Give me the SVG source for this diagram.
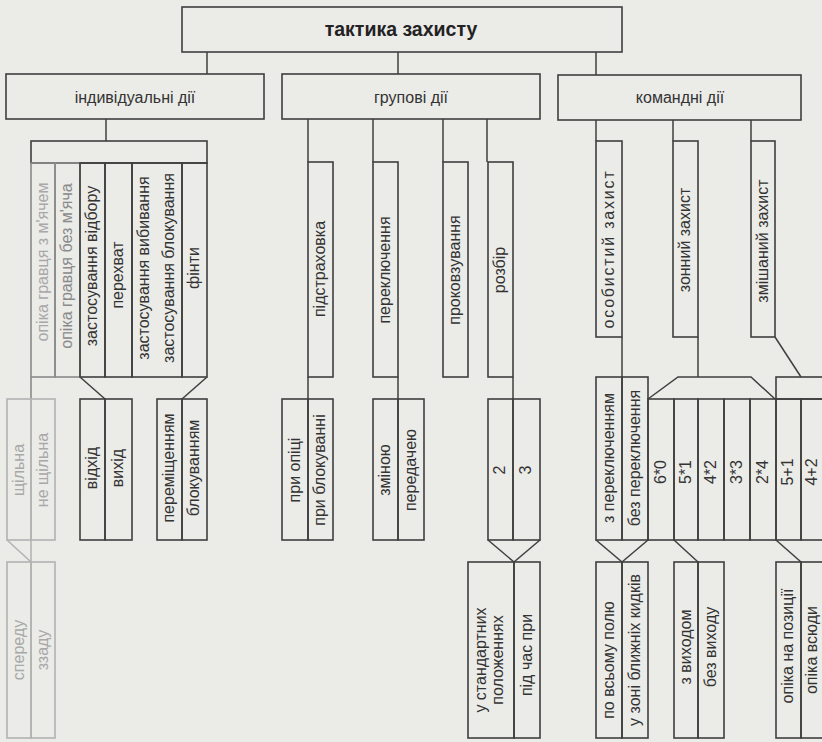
<svg xmlns="http://www.w3.org/2000/svg" width="822" height="742" viewBox="0 0 822 742">
<style>
.bg{fill:#ebebe8}
.b{fill:none;stroke:#3f3f3f;stroke-width:1.6}
.m{fill:none;stroke:#8a8a8a;stroke-width:1.6}
.f{fill:none;stroke:#b2b2b2;stroke-width:1.6}
.c{fill:none;stroke:#3f3f3f;stroke-width:1.5}
.cf{fill:none;stroke:#b2b2b2;stroke-width:1.5}
text{font-family:"Liberation Sans",Arial,sans-serif;font-size:16px;fill:#333;text-anchor:middle}
.h{font-size:19.5px;font-weight:bold;fill:#222}
.ft{fill:#a8a8a8}
.mt{fill:#8a8a8a}
</style>
<rect class="bg" x="0" y="0" width="822" height="742"/>

<g id="connectors">
  <line class="c" x1="207" y1="52" x2="207" y2="74"/>
  <line class="c" x1="398" y1="52" x2="398" y2="74"/>
  <line class="c" x1="596" y1="52" x2="596" y2="75"/>
  <line class="c" x1="106" y1="119" x2="106" y2="141"/>
  <line class="c" x1="308" y1="119" x2="308" y2="162"/>
  <line class="c" x1="373" y1="119" x2="373" y2="162"/>
  <line class="c" x1="443" y1="119" x2="443" y2="162"/>
  <line class="c" x1="487" y1="119" x2="487" y2="162"/>
  <line class="c" x1="596" y1="120" x2="596" y2="141"/>
  <line class="c" x1="673" y1="120" x2="673" y2="141"/>
  <line class="c" x1="751" y1="120" x2="751" y2="141"/>
  <line class="c" x1="80" y1="377" x2="105" y2="399"/>
  <line class="c" x1="207" y1="377" x2="182" y2="399"/>
  <line class="m" x1="31" y1="377" x2="31" y2="399"/>
  <line class="cf" x1="31" y1="540" x2="31" y2="562"/>
  <line class="cf" x1="7" y1="540" x2="31" y2="562"/>
  <line class="c" x1="308" y1="377" x2="308" y2="399"/>
  <line class="c" x1="398" y1="377" x2="398" y2="399"/>
  <line class="c" x1="513" y1="377" x2="513" y2="399"/>
  <line class="c" x1="488" y1="540" x2="514" y2="562"/>
  <line class="c" x1="540" y1="540" x2="514" y2="562"/>
  <line class="c" x1="622" y1="337" x2="622" y2="377"/>
  <line class="c" x1="698" y1="337" x2="698" y2="377"/>
  <polyline class="c" points="648,399 678,377 751,377 775,399"/>
  <line class="c" x1="775" y1="337" x2="801" y2="377"/>
  <line class="c" x1="596" y1="540" x2="622" y2="562"/>
  <line class="c" x1="648" y1="540" x2="622" y2="562"/>
  <line class="c" x1="674" y1="540" x2="698" y2="562"/>
  <line class="c" x1="776" y1="540" x2="801" y2="562"/>
</g>

<g id="root"><rect class="b" x="182" y="7" width="440" height="45"/><text class="h" x="401" y="36">тактика захисту</text></g>
<g id="individual"><rect class="b" x="6" y="74" width="258" height="45"/><text x="135" y="103">індивідуальні дії</text></g>
<g id="group"><rect class="b" x="282" y="74" width="258" height="45"/><text x="411" y="103">групові дії</text></g>
<g id="team"><rect class="b" x="558" y="75" width="243" height="45"/><text x="680" y="103">командні дії</text></g>

<g id="ind-header"><rect class="b" x="31" y="141" width="176" height="22"/></g>
<g id="ind-1"><rect class="m" x="31" y="163" width="24" height="214"/><text class="ft" transform="translate(48,262) rotate(-90)">опіка гравця з м'ячем</text></g>
<g id="ind-2"><rect class="m" x="55" y="163" width="25" height="214"/><text class="mt" transform="translate(72,266) rotate(-90)">опіка гравця без м'яча</text></g>
<g id="ind-3"><rect class="b" x="80" y="163" width="25" height="214"/><text transform="translate(97,266) rotate(-90)">застосування відбору</text></g>
<g id="ind-4"><rect class="b" x="105" y="163" width="27" height="214"/><text transform="translate(123,275) rotate(-90)">перехват</text></g>
<g id="ind-5"><rect class="b" x="132" y="163" width="50" height="214"/><text transform="translate(149,268) rotate(-90)">застосування вибивання</text><text transform="translate(174,268) rotate(-90)">застосування блокування</text></g>
<g id="ind-6"><rect class="b" x="182" y="163" width="25" height="214"/><text transform="translate(199,268) rotate(-90)">фінти</text></g>

<g id="ind-1a"><rect class="f" x="7" y="399" width="24" height="141"/><text class="ft" transform="translate(24,470) rotate(-90)">щільна</text></g>
<g id="ind-1b"><rect class="f" x="31" y="399" width="24" height="141"/><text class="ft" transform="translate(48,470) rotate(-90)">не щільна</text></g>
<g id="ind-1c"><rect class="f" x="7" y="562" width="24" height="176"/><text class="ft" transform="translate(24,650) rotate(-90)">спереду</text></g>
<g id="ind-1d"><rect class="f" x="31" y="562" width="24" height="176"/><text class="ft" transform="translate(48,650) rotate(-90)">ззаду</text></g>
<g id="ind-3a"><rect class="b" x="80" y="399" width="25" height="141"/><text transform="translate(97,468) rotate(-90)">відхід</text></g>
<g id="ind-3b"><rect class="b" x="105" y="399" width="27" height="141"/><text transform="translate(123,468) rotate(-90)">вихід</text></g>
<g id="ind-6a"><rect class="b" x="157" y="399" width="25" height="141"/><text transform="translate(174,468) rotate(-90)">переміщенням</text></g>
<g id="ind-6b"><rect class="b" x="182" y="399" width="25" height="141"/><text transform="translate(199,468) rotate(-90)">блокуванням</text></g>

<g id="grp-1"><rect class="b" x="308" y="162" width="25" height="215"/><text transform="translate(325,269) rotate(-90)">підстраховка</text></g>
<g id="grp-2"><rect class="b" x="373" y="162" width="25" height="215"/><text transform="translate(390,270) rotate(-90)">переключення</text></g>
<g id="grp-3"><rect class="b" x="443" y="162" width="25" height="215"/><text transform="translate(460,270) rotate(-90)">проковзування</text></g>
<g id="grp-4"><rect class="b" x="488" y="162" width="25" height="215"/><text transform="translate(505,270) rotate(-90)">розбір</text></g>
<g id="grp-1a"><rect class="b" x="282" y="399" width="26" height="141"/><text transform="translate(300,470) rotate(-90)">при опіці</text></g>
<g id="grp-1b"><rect class="b" x="308" y="399" width="25" height="141"/><text transform="translate(325,470) rotate(-90)">при блокуванні</text></g>
<g id="grp-2a"><rect class="b" x="373" y="399" width="25" height="141"/><text transform="translate(390,470) rotate(-90)">зміною</text></g>
<g id="grp-2b"><rect class="b" x="398" y="399" width="26" height="141"/><text transform="translate(416,470) rotate(-90)">передачею</text></g>
<g id="grp-4a"><rect class="b" x="488" y="399" width="25" height="141"/><text transform="translate(505,470) rotate(-90)">2</text></g>
<g id="grp-4b"><rect class="b" x="513" y="399" width="27" height="141"/><text transform="translate(531,470) rotate(-90)">3</text></g>
<g id="grp-4c"><rect class="b" x="468" y="562" width="46" height="176"/><text transform="translate(486,660) rotate(-90)">у стандартних</text><text transform="translate(503,660) rotate(-90)">положеннях</text></g>
<g id="grp-4d"><rect class="b" x="514" y="562" width="26" height="176"/><text transform="translate(532,655) rotate(-90)">під час при</text></g>

<g id="team-1"><rect class="b" x="596" y="141" width="26" height="196"/><text transform="translate(614,249) rotate(-90)" letter-spacing="1.8">особистий захист</text></g>
<g id="team-2"><rect class="b" x="673" y="141" width="25" height="196"/><text transform="translate(690,240) rotate(-90)">зонний захист</text></g>
<g id="team-3"><rect class="b" x="751" y="141" width="24" height="196"/><text transform="translate(768,241) rotate(-90)">змішаний захист</text></g>
<g id="team-1a"><rect class="b" x="596" y="377" width="26" height="163"/><text transform="translate(614,458) rotate(-90)">з переключенням</text></g>
<g id="team-1b"><rect class="b" x="622" y="377" width="26" height="163"/><text transform="translate(640,458) rotate(-90)">без переключення</text></g>
<g id="team-2a"><rect class="b" x="648" y="399" width="26" height="141"/><text transform="translate(666,472) rotate(-90)">6*0</text></g>
<g id="team-2b"><rect class="b" x="674" y="399" width="24" height="141"/><text transform="translate(691,472) rotate(-90)">5*1</text></g>
<g id="team-2c"><rect class="b" x="698" y="399" width="26" height="141"/><text transform="translate(716,472) rotate(-90)">4*2</text></g>
<g id="team-2d"><rect class="b" x="724" y="399" width="26" height="141"/><text transform="translate(742,472) rotate(-90)">3*3</text></g>
<g id="team-2e"><rect class="b" x="750" y="399" width="26" height="141"/><text transform="translate(768,472) rotate(-90)">2*4</text></g>
<g id="team-3h"><rect class="b" x="776" y="377" width="50" height="22"/></g>
<g id="team-3a"><rect class="b" x="776" y="399" width="25" height="141"/><text transform="translate(793,472) rotate(-90)">5+1</text></g>
<g id="team-3b"><rect class="b" x="801" y="399" width="25" height="141"/><text transform="translate(817,472) rotate(-90)">4+2</text></g>
<g id="team-1c"><rect class="b" x="596" y="562" width="26" height="176"/><text transform="translate(614,660) rotate(-90)">по всьому полю</text></g>
<g id="team-1d"><rect class="b" x="622" y="562" width="26" height="176"/><text transform="translate(640,650) rotate(-90)">у зоні ближніх кидків</text></g>
<g id="team-2f"><rect class="b" x="674" y="562" width="24" height="176"/><text transform="translate(691,647) rotate(-90)">з виходом</text></g>
<g id="team-2g"><rect class="b" x="698" y="562" width="26" height="176"/><text transform="translate(716,647) rotate(-90)">без виходу</text></g>
<g id="team-3c"><rect class="b" x="776" y="562" width="25" height="176"/><text transform="translate(793,646) rotate(-90)">опіка на позиції</text></g>
<g id="team-3d"><rect class="b" x="801" y="562" width="25" height="176"/><text transform="translate(817,650) rotate(-90)">опіка всюди</text></g>
</svg>
